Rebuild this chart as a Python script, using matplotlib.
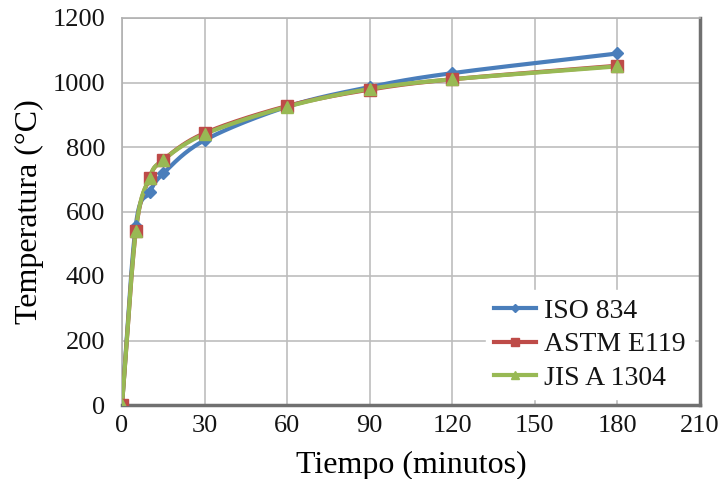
import numpy as np
import matplotlib.pyplot as plt
from matplotlib.lines import Line2D

plt.rcParams['font.family'] = ['Liberation Serif', 'DejaVu Serif']
plt.rcParams['text.color'] = '#141414'
plt.rcParams['xtick.color'] = '#141414'
plt.rcParams['ytick.color'] = '#141414'

# tiempo (min) y temperatura (°C)
tiempo = [0, 5, 10, 15, 30, 60, 90, 120, 180]
iso834 = [0, 556, 659, 718, 821, 925, 986, 1029, 1090]
astm_e119 = [0, 538, 704, 760, 843, 927, 978, 1010, 1052]
jis_a1304 = [0, 540, 705, 760, 840, 925, 980, 1010, 1050]

series = [
    ('ISO 834', iso834, '#4a7ebb', 'D', 6),
    ('ASTM E119', astm_e119, '#be4b48', 's', 8),
    ('JIS A 1304', jis_a1304, '#98b954', '^', 8),
]


def smooth(x, y, n=30):
    # Catmull-Rom curve through the points (like Excel's smoothed line)
    x = np.asarray(x, float)
    y = np.asarray(y, float)
    px = np.concatenate([[2 * x[0] - x[1]], x, [2 * x[-1] - x[-2]]])
    py = np.concatenate([[2 * y[0] - y[1]], y, [2 * y[-1] - y[-2]]])
    xs, ys = [], []
    t = np.linspace(0, 1, n)
    for i in range(1, len(px) - 2):
        for p, out in ((px, xs), (py, ys)):
            p0, p1, p2, p3 = p[i - 1], p[i], p[i + 1], p[i + 2]
            out.extend(0.5 * (2 * p1 + (-p0 + p2) * t
                              + (2 * p0 - 5 * p1 + 4 * p2 - p3) * t ** 2
                              + (-p0 + 3 * p1 - 3 * p2 + p3) * t ** 3))
    return xs, ys


fig = plt.figure(figsize=(7.26, 4.79), dpi=100)
ax = fig.add_axes([122 / 726, 1 - 405 / 479, 578 / 726, 387 / 479])

handles = []
for name, vals, color, mk, ms in series:
    sx, sy = smooth(tiempo, vals)
    ax.plot(sx, sy, color=color, lw=3, zorder=3, solid_capstyle='round')
    ax.plot(tiempo, vals, ls='none', marker=mk, ms=ms, color=color, zorder=4)
    handles.append(Line2D([], [], color=color, lw=3, marker=mk, ms=ms - 2))

ax.set_xlim(0, 210)
ax.set_ylim(0, 1200)
ax.set_xticks(range(0, 211, 30))
ax.set_yticks(range(0, 1201, 200))
ax.grid(True, color='#bdbdbd', lw=1.2)
ax.set_axisbelow(True)
ax.tick_params(length=0, labelsize=19)
ax.tick_params(axis='y', pad=12)
ax.tick_params(axis='x', pad=7)

for s in ('left', 'top'):
    ax.spines[s].set_color('#b0b0b0')
    ax.spines[s].set_linewidth(1.2)
for s in ('right', 'bottom'):
    ax.spines[s].set_color('#707070')
    ax.spines[s].set_linewidth(2.5)

ax.set_xlabel('Tiempo (minutos)', fontsize=23, labelpad=10)
ax.set_ylabel('Temperatura (°C)', fontsize=23, labelpad=6)

leg = ax.legend(handles, [s[0] for s in series], loc='lower right',
                fontsize=20, handlelength=1.5, handletextpad=0.3,
                frameon=True, fancybox=False, framealpha=1,
                edgecolor='white', borderaxespad=0.2, labelspacing=0.3,
                borderpad=0.3)

fig.savefig('out.png', dpi=100)
